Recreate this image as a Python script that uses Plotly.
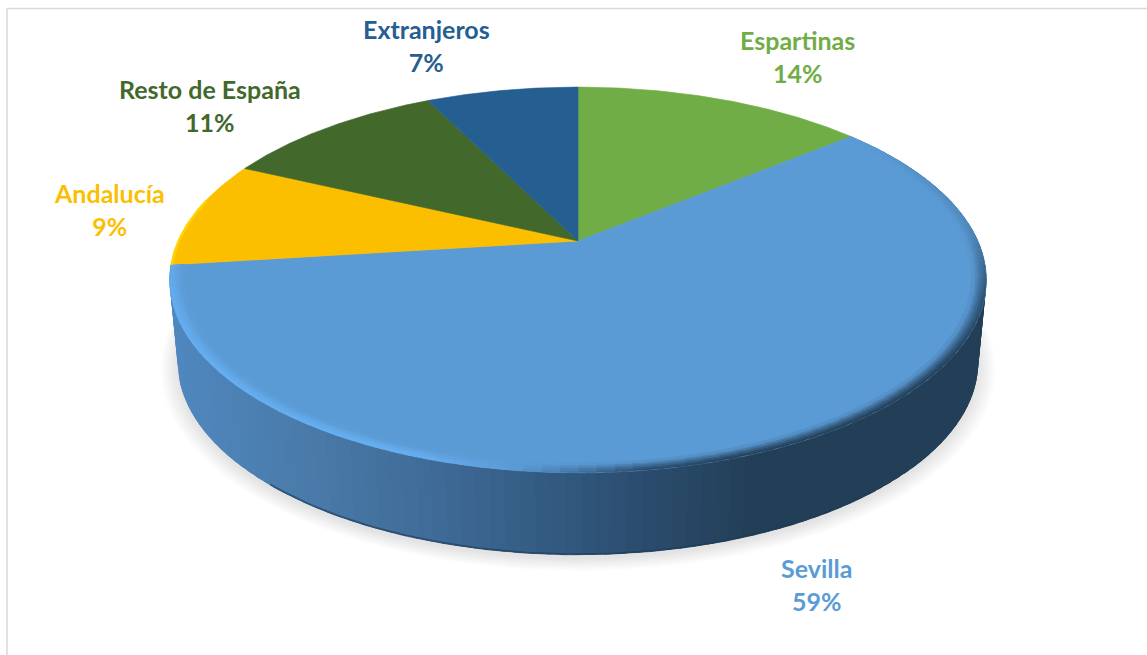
import numpy as np
import plotly.graph_objects as go

categories = ["Espartinas", "Sevilla", "Andalucía", "Resto de España", "Extranjeros"]
values = [14, 59, 9, 10.7, 7.3]
colors = ["#70ad47", "#5b9bd5", "#fbbf00", "#43682b", "#255e91"]
label_x = [797, 816, 109, 210, 426]
label_y = [56, 584, 209, 105, 45.5]
FONT = "Lato"

CX, CY, A, B, K = 578, 241, 400, 185, 0.202
DEPTH, A_BOTTOM = 82, 392


def proj(theta_deg, r=1.0, a=A, dy=0.0):
    t = np.radians(theta_deg)
    X, Y = r * np.sin(t), r * np.cos(t)
    w = 1 + K * Y
    return CX + a * X / w, CY - B * Y / w + dy


def mix(stops, v):
    xs = [s[0] for s in stops]
    rgb = [int(round(np.interp(v, xs, [int(s[1][i:i + 2], 16) for s in stops]))) for i in (1, 3, 5)]
    return "#%02x%02x%02x" % tuple(rgb)


def blend(c1, c2, f):
    return mix([(0, c1), (1, c2)], f)


fig = go.Figure()


def poly(x, y, color, name=None, lw=0.0):
    x, y = list(x), list(y)
    line = dict(color=color, width=lw) if lw else dict(width=0)
    fig.add_trace(go.Scatter(x=x + x[:1], y=y + y[:1], mode="lines", fill="toself", fillcolor=color,
                             line=line, hoverinfo="skip" if name is None else "text",
                             text=name, showlegend=False))


shares = np.array(values, dtype=float) / sum(values) * 360
ends = np.cumsum(shares)
starts = ends - shares
i_main = int(np.argmax(values))
main_start, main_end = starts[i_main], ends[i_main]

# Soft shadow under the disc
full = np.linspace(0, 360, 240)
for d in np.linspace(0.042, 0.0, 14):
    sx, sy = proj(full, r=1 + d, a=A_BOTTOM, dy=DEPTH + 4)
    poly(sx, sy, "rgba(0,0,0,0.009)")

# Side wall of the largest slice, shaded left to right (each strip overlaps the next)
wall_stops = [(170, "#4f88c0"), (300, "#4a7cab"), (450, "#3f6a96"), (560, "#325a80"),
              (660, "#2a4b6c"), (760, "#233f57"), (1000, "#233f57")]
edges = np.linspace(main_start, main_end, 121)
step = edges[1] - edges[0]
for t0 in edges[:-1]:
    seg = np.linspace(t0, min(t0 + 2.5 * step, main_end), 4)
    tx, ty = proj(seg)
    bx, by = proj(seg, a=A_BOTTOM, dy=DEPTH)
    poly(np.r_[tx, bx[::-1]], np.r_[ty, by[::-1]], mix(wall_stops, (tx[0] + bx[0]) / 2))

# Darker foot of the wall
seg = np.linspace(140, 222, 90)
bx, by = proj(seg, r=0.998, a=A_BOTTOM, dy=DEPTH)
fig.add_trace(go.Scatter(x=bx, y=by, mode="lines", line=dict(color="#1d3a58", width=2), opacity=0.6,
                         hoverinfo="skip", showlegend=False))

# Top face: slices
for name, val, col, t0, t1 in zip(categories, values, colors, starts, ends):
    seg = np.linspace(t0, t1, max(int(t1 - t0) * 2, 12))
    x, y = proj(seg)
    poly(np.r_[CX, x], np.r_[CY, y], col, name=f"{name}: {round(val)}%", lw=0.6)

# Bevel along the rim of the largest slice
edge_stops = [(main_start, "#5b9bd5"), (85, "#4f86b8"), (105, "#2d5273"), (125, "#233f57"),
              (160, "#233f57"), (172, "#2b4c6e"), (186, "#5b9bd5"), (198, "#68b0f4"),
              (250, "#66aef0"), (main_end, "#62a8e8")]
bevel = np.linspace(main_start, main_end, 101)
bstep = bevel[1] - bevel[0]
bands = np.linspace(1.0, 0.968, 7)
for r0, r1 in zip(bands[:-1], bands[1:]):
    f = (1 - (r0 + r1) / 2) / (1 - bands[-1])
    for t0 in bevel[:-1]:
        seg = np.linspace(t0, min(t0 + 1.6 * bstep, main_end), 3)
        x0, y0 = proj(seg, r=r0)
        x1, y1 = proj(seg, r=r1 - 0.004)
        poly(np.r_[x0, x1[::-1]], np.r_[y0, y1[::-1]],
             blend(mix(edge_stops, t0), colors[i_main], f ** 1.3))

# Bright edge on the yellow slice
i_y = 2
seg = np.linspace(starts[i_y], ends[i_y] - 12, 40)
x, y = proj(seg, r=0.998)
fig.add_trace(go.Scatter(x=x, y=y, mode="lines", line=dict(color="#ffd500", width=2.5),
                         hoverinfo="skip", showlegend=False))

fig.update_layout(
    width=1147, height=655, margin=dict(l=0, r=0, t=0, b=0), autosize=False,
    paper_bgcolor="white", plot_bgcolor="white", showlegend=False,
    xaxis=dict(range=[0, 1147], visible=False, fixedrange=True),
    yaxis=dict(range=[655, 0], visible=False, fixedrange=True),
    shapes=[
        dict(type="line", xref="x", yref="y", x0=7, x1=7, y0=8, y1=655, line=dict(color="#d9d9d9", width=1.5)),
        dict(type="line", xref="x", yref="y", x0=7, x1=1147, y0=8.5, y1=8.5, line=dict(color="#d9d9d9", width=1.5)),
    ],
    annotations=[
        dict(x=lx, y=ly, xref="x", yref="y", showarrow=False, align="center",
             text=f"<b>{n}</b><br><b>{round(v)}%</b>",
             font=dict(family=FONT, size=25, color=c))
        for n, v, c, lx, ly in zip(categories, values, colors, label_x, label_y)
    ],
)
fig.write_html("out.html", config={"displayModeBar": False},
               post_script="document.body.style.margin='0';document.documentElement.style.overflow='hidden';")
